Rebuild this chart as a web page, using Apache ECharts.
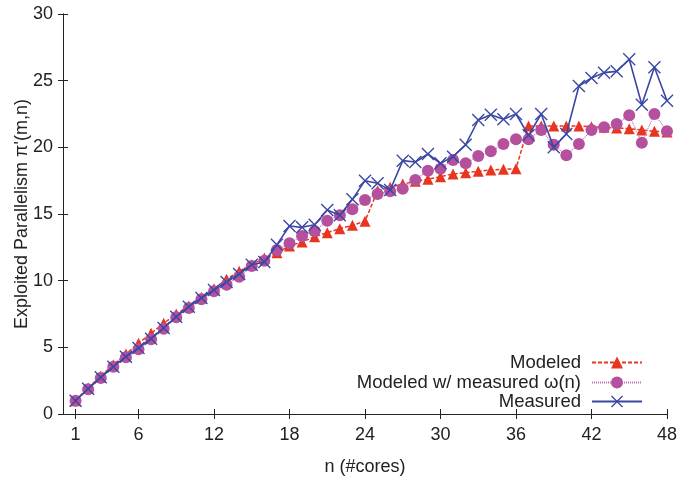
<!DOCTYPE html>
<html>
<head>
<meta charset="utf-8">
<script src="https://cdn.jsdelivr.net/npm/echarts@6/dist/echarts.min.js"></script>
<style>html,body{margin:0;padding:0;background:#fff}#c{width:680px;height:478px}</style>
</head>
<body>
<div id="c"></div>
<script>
const cores = [1,2,3,4,5,6,7,8,9,10,11,12,13,14,15,16,17,18,19,20,21,22,23,24,25,26,27,28,29,30,31,32,33,34,35,36,37,38,39,40,41,42,43,44,45,46,47,48];
const modeled = [1.0,1.95,2.85,3.7,4.5,5.3,6.05,6.8,7.5,8.1,8.75,9.4,10.1,10.7,11.2,11.7,12.1,12.6,12.9,13.3,13.6,13.9,14.15,14.45,16.75,17.0,17.25,17.45,17.6,17.8,18.0,18.1,18.2,18.3,18.35,18.4,21.6,21.6,21.6,21.6,21.6,21.55,21.5,21.45,21.4,21.3,21.2,21.15];
const modeledOmega = [1.0,1.85,2.7,3.55,4.25,4.85,5.6,6.4,7.25,7.95,8.6,9.2,9.7,10.3,11.1,11.5,12.3,12.8,13.35,13.7,14.5,14.9,15.35,16.05,16.5,16.7,16.9,17.55,18.25,18.4,19.05,18.8,19.35,19.7,20.25,20.6,20.6,21.3,20.2,19.4,20.25,21.3,21.5,21.75,22.4,20.35,22.5,21.2];
const measured = [1.0,1.9,2.75,3.55,4.3,4.95,5.65,6.45,7.3,8.05,8.7,9.3,9.9,10.5,11.2,11.4,12.7,14.1,14.0,14.2,15.3,14.9,16.1,17.5,17.3,16.8,19.0,18.9,19.5,18.8,19.3,20.2,22.05,22.45,22.1,22.5,20.9,22.5,20.0,21.0,24.6,25.2,25.6,25.7,26.6,23.2,26.0,23.5];
const xTicks = [1,6,12,18,24,30,36,42,48];
const seriesNames = ['Modeled','Modeled w/ measured \u03c9(n)','Measured'];

const FONT = 'Liberation Sans, Arial, Helvetica, sans-serif';
const TXT = '#222';
const FS = 18;
const toPairs = arr => cores.map((n, i) => [n, arr[i]]);
const crossPath = 'path://M1.5,0L10,8.5L18.5,0L20,1.5L11.5,10L20,18.5L18.5,20L10,11.5L1.5,20L0,18.5L8.5,10L0,1.5Z';

const axisLine = {show: true, lineStyle: {color: '#222', width: 1}};
const tickIn = {show: true, inside: true, length: 5, lineStyle: {color: '#222', width: 1}};

const legendRows = [362, 382, 401];
const legends = seriesNames.map((nm, i) => ({
  data: [nm],
  orient: 'horizontal',
  align: 'right',
  right: 37,
  top: legendRows[i] - 9,
  itemWidth: 50,
  itemHeight: 15,
  itemGap: 0,
  padding: 0,
  selectedMode: false,
  textStyle: {fontFamily: FONT, fontSize: 18.5, color: TXT, lineHeight: 18, padding: [0, 6, 0, 0]}
}));

const chart = echarts.init(document.getElementById('c'), null, {renderer: 'canvas'});
chart.setOption({
  animation: false,
  backgroundColor: '#fff',
  grid: {left: 63, right: 13, top: 14, bottom: 64, containLabel: false, outerBoundsMode: 'none'},
  legend: legends,
  xAxis: [{
    type: 'value', min: 0, max: 48, position: 'bottom',
    name: 'n (#cores)', nameLocation: 'middle', nameGap: 44,
    nameTextStyle: {fontFamily: FONT, fontSize: FS, color: TXT},
    axisLine: axisLine,
    axisTick: Object.assign({customValues: xTicks}, tickIn),
    axisLabel: {customValues: xTicks, fontFamily: FONT, fontSize: FS, color: TXT, margin: 12},
    splitLine: {show: false}
  }, {
    type: 'value', min: 0, max: 48, position: 'top',
    axisLine: axisLine,
    axisTick: Object.assign({customValues: xTicks}, tickIn),
    axisLabel: {show: false},
    splitLine: {show: false}
  }],
  yAxis: [{
    type: 'value', min: 0, max: 30, interval: 5, position: 'left',
    name: "Exploited Parallelism \u03c0'(m,n)", nameLocation: 'middle', nameGap: 32,
    nameMoveOverlap: false,
    nameTextStyle: {fontFamily: FONT, fontSize: FS, color: TXT},
    axisLine: axisLine,
    axisTick: tickIn,
    axisLabel: {fontFamily: FONT, fontSize: FS, color: TXT, margin: 10},
    splitLine: {show: false}
  }, {
    type: 'value', min: 0, max: 30, interval: 5, position: 'right',
    axisLine: axisLine,
    axisTick: tickIn,
    axisLabel: {show: false},
    splitLine: {show: false}
  }],
  series: [{
    name: seriesNames[0], type: 'line', data: toPairs(modeled),
    symbol: 'triangle', symbolSize: 11,
    itemStyle: {color: '#e8351f'},
    lineStyle: {color: '#e8351f', width: 1.5, type: [4, 2]},
    z: 2
  }, {
    name: seriesNames[1], type: 'line', data: toPairs(modeledOmega),
    symbol: 'circle', symbolSize: 12,
    itemStyle: {color: '#b5509e'},
    lineStyle: {color: '#c070b0', width: 1.2, type: [1, 1]},
    z: 3
  }, {
    name: seriesNames[2], type: 'line', data: toPairs(measured),
    symbol: crossPath, symbolSize: 13,
    itemStyle: {color: '#3a47a3'},
    lineStyle: {color: '#3a47a3', width: 1.6},
    z: 4
  }]
});
</script>
</body>
</html>
